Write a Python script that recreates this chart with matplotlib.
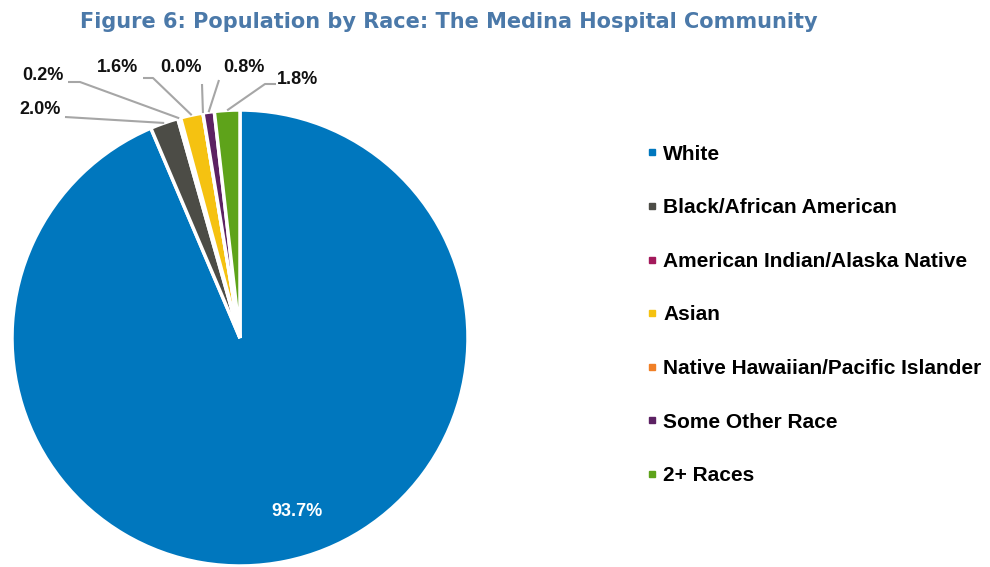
import math
import matplotlib.pyplot as plt
from matplotlib.lines import Line2D

races = ['White', 'Black/African American', 'American Indian/Alaska Native',
         'Asian', 'Native Hawaiian/Pacific Islander', 'Some Other Race', '2+ Races']
shares = [93.7, 2.0, 0.2, 1.6, 0.0, 0.8, 1.8]
colors = ['#0077BE', '#4C4C46', '#A3195B', '#F5C211', '#F07F26', '#5C2163', '#5EA31A']

W, H = 990, 567
CX, CY, R = 240, 338, 228

# label centre, then the points the leader line runs through (pixels, y from top)
label_pos = {
    1: (40, 110, [(65, 117)]),
    2: (43, 76, [(68, 82), (80, 82)]),
    3: (118, 67, [(143, 78), (153, 78)]),
    4: (181, 67, [(202, 84)]),
    5: (244, 67, [(219, 80)]),
    6: (298, 80, [(276, 84), (265, 84)]),
}

fig = plt.figure(figsize=(W / 100, H / 100), dpi=100)
ax = fig.add_axes([0, 0, 1, 1])

wedges, _ = ax.pie(shares, colors=colors, startangle=90, counterclock=False,
                   center=(CX, H - CY), radius=R, normalize=True,
                   wedgeprops=dict(edgecolor='white', linewidth=2.5))
ax.set_xlim(0, W)
ax.set_ylim(0, H)
ax.set_aspect('equal')
ax.axis('off')

for i, (tx, ty, pts) in label_pos.items():
    w = wedges[i]
    mid = math.radians((w.theta1 + w.theta2) / 2)
    ex = CX + R * math.cos(mid)
    ey = (H - CY) + R * math.sin(mid)
    xs = [p[0] for p in pts] + [ex]
    ys = [H - p[1] for p in pts] + [ey]
    ax.plot(xs, ys, color='#A6A6A6', lw=1.5, solid_capstyle='butt')
    ax.text(tx, H - ty, f'{shares[i]:.1f}%', ha='center', va='center',
            fontsize=13, fontweight='bold', family='Liberation Sans', color='#111111')

ax.text(297, H - 511, f'{shares[0]:.1f}%', ha='center', va='center',
        fontsize=13, fontweight='bold', family='Liberation Sans', color='white')

fig.text(449 / W, 1 - 22 / H, 'Figure 6: Population by Race: The Medina Hospital Community',
         ha='center', va='center', fontsize=15, fontweight='bold',
         family='DejaVu Sans', color='#4B79A9')

handles = [Line2D([], [], marker='s', ls='', color=c, markersize=5) for c in colors]
leg = ax.legend(handles, races, loc='upper left', bbox_to_anchor=(629 / W, 1 - 126 / H),
                bbox_transform=fig.transFigure, frameon=False,
                handlelength=0.4, handletextpad=0.35, labelspacing=1.66,
                prop=dict(family='Liberation Sans', weight='bold', size=15))
for t in leg.get_texts():
    t.set_color('black')

fig.savefig('out.png', dpi=100)
